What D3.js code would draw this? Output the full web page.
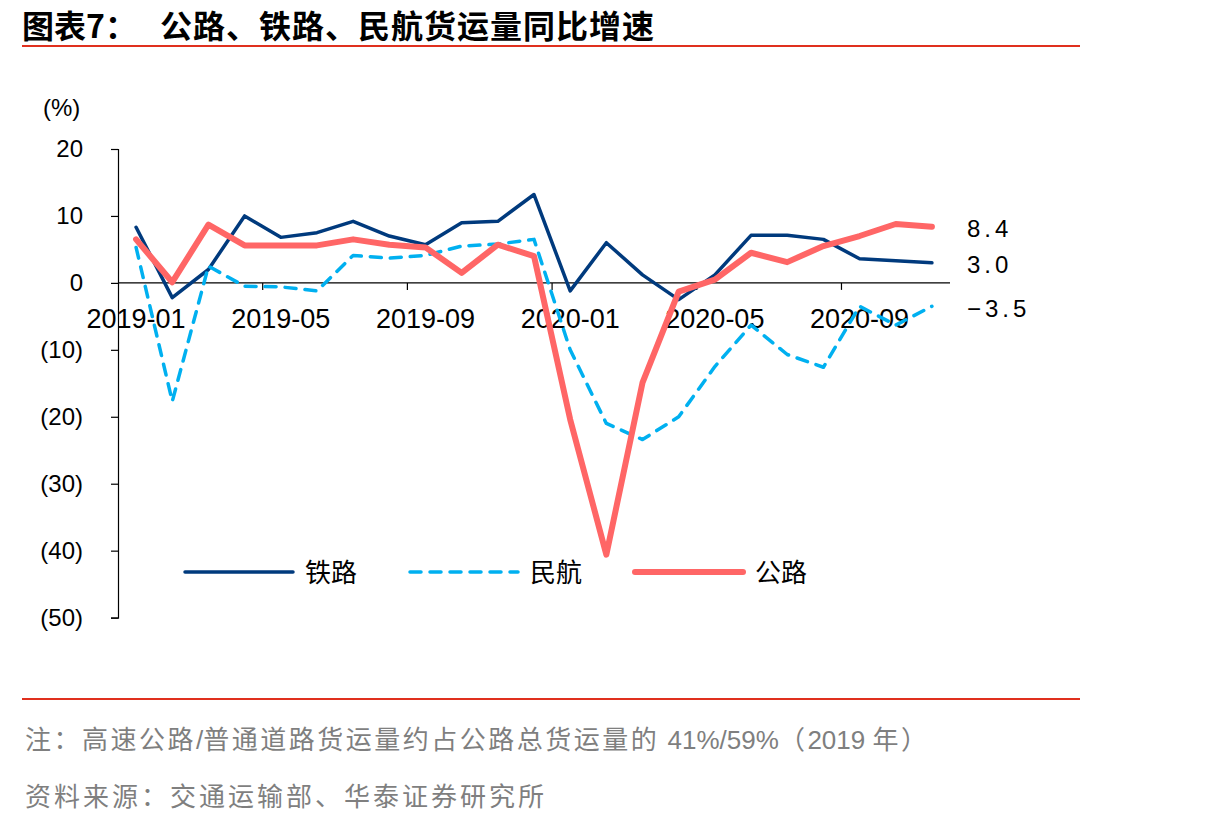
<!DOCTYPE html>
<html>
<head>
<meta charset="utf-8">
<script src="https://cdn.jsdelivr.net/npm/d3@7"></script>
<style>
    body { margin: 0; background: #fff; }
    svg text { font-family: "Liberation Sans", Arial, sans-serif; }
    .cjk { font-family: "Noto Sans CJK SC", sans-serif !important; }
</style>
</head>
<body>
<div id="chart"></div>
<script>
// months 2019-01 .. 2020-11
let months = ["2019-01","2019-02","2019-03","2019-04","2019-05","2019-06","2019-07","2019-08","2019-09","2019-10","2019-11","2019-12",
    "2020-01","2020-02","2020-03","2020-04","2020-05","2020-06","2020-07","2020-08","2020-09","2020-10","2020-11"]

let railYoY = [8.3, -2.2, 2.0, 10.0, 6.8, 7.5, 9.2, 7.0, 5.7, 9.0, 9.2, 13.2, -1.2, 6.0, 1.2, -2.5, 1.2, 7.1, 7.1, 6.5, 3.6, 3.3, 3.0]
let airYoY = [5.3, -17.7, 2.5, -0.5, -0.6, -1.2, 4.1, 3.7, 4.1, 5.5, 5.8, 6.5, -10.0, -21.0, -23.4, -20.0, -12.5, -6.3, -10.7, -12.6, -3.5, -6.3, -3.5]
let roadYoY = [6.5, 0.1, 8.7, 5.6, 5.6, 5.6, 6.5, 5.7, 5.3, 1.5, 5.7, 4.0, -20.4, -40.6, -14.9, -1.3, 0.5, 4.5, 3.1, 5.5, 7.0, 8.8, 8.4]

let yTicks = [20, 10, 0, -10, -20, -30, -40, -50]
let xLabels = ["2019-01","2019-05","2019-09","2020-01","2020-05","2020-09"]

let series = [
    {name: "铁路", values: railYoY, color: "#003a7d", width: 3.5, dash: null},
    {name: "民航", values: airYoY, color: "#00b0f0", width: 3.5, dash: "11,9"},
    {name: "公路", values: roadYoY, color: "#ff6666", width: 6, dash: null}
]

let width = 1210, height = 826

let svg = d3.select("#chart").append("svg")
    .attr("width", width)
    .attr("height", height)

// title + rules
svg.append("text").attr("class", "cjk")
    .attr("x", 22).attr("y", 38)
    .style("font-size", "32px").style("font-weight", "bold")
    .text("图表7：")
svg.append("text").attr("class", "cjk")
    .attr("x", 160).attr("y", 38)
    .style("font-size", "32px").style("font-weight", "bold")
    .style("letter-spacing", "1px")
    .text("公路、铁路、民航货运量同比增速")

svg.append("line")
    .attr("x1", 22).attr("x2", 1080).attr("y1", 46).attr("y2", 46)
    .attr("stroke", "#e0301e").attr("stroke-width", 2)
svg.append("line")
    .attr("x1", 22).attr("x2", 1080).attr("y1", 699).attr("y2", 699)
    .attr("stroke", "#e0301e").attr("stroke-width", 2)

// scales
let x = d3.scalePoint()
    .domain(months)
    .range([118, 950])
    .padding(0.5)

let y = d3.scaleLinear()
    .domain([-50, 20])
    .range([617.6, 149])

let step = x.step()

// y axis
let yAxis = d3.axisLeft(y)
    .tickValues(yTicks)
    .tickSize(7)
    .tickFormat(d => d < 0 ? "(" + Math.abs(d) + ")" : d)

let gy = svg.append("g")
    .attr("transform", "translate(118,0)")
    .call(yAxis)
gy.select(".domain").attr("stroke", "#000").attr("stroke-width", 1.2)
gy.selectAll(".tick line").attr("stroke", "#000").attr("stroke-width", 1.2)
gy.selectAll(".tick text")
    .attr("x", -35)
    .style("font-size", "24px")
    .attr("fill", "#000")

svg.append("text")
    .attr("x", 43).attr("y", 116)
    .style("font-size", "24px")
    .text("(%)")

// x axis at zero
let zeroY = y(0)
svg.append("line")
    .attr("x1", 118).attr("x2", 118 + step * months.length)
    .attr("y1", zeroY).attr("y2", zeroY)
    .attr("stroke", "#000").attr("stroke-width", 1.2)

let tickIdx = d3.range(4, months.length, 4)
svg.selectAll(".xtick")
    .data(tickIdx)
    .enter()
    .append("line")
    .attr("class", "xtick")
    .attr("x1", d => 118 + step * d).attr("x2", d => 118 + step * d)
    .attr("y1", zeroY).attr("y2", zeroY + 7)
    .attr("stroke", "#000").attr("stroke-width", 1.2)

svg.selectAll(".xlabel")
    .data(xLabels)
    .enter()
    .append("text")
    .attr("class", "xlabel")
    .attr("x", d => x(d))
    .attr("y", zeroY + 45)
    .attr("text-anchor", "middle")
    .style("font-size", "27px")
    .text(d => d)

// lines
let line = d3.line()
    .x((d, i) => x(months[i]))
    .y(d => y(d))

svg.selectAll(".series")
    .data(series)
    .enter()
    .append("path")
    .attr("class", "series")
    .attr("d", d => line(d.values))
    .attr("fill", "none")
    .attr("stroke", d => d.color)
    .attr("stroke-width", d => d.width)
    .attr("stroke-dasharray", d => d.dash)
    .attr("stroke-linejoin", "round")
    .attr("stroke-linecap", "round")

// end labels
let endLabels = [
    {v: roadYoY[roadYoY.length - 1], y: 228},
    {v: railYoY[railYoY.length - 1], y: 264},
    {v: airYoY[airYoY.length - 1], y: 308}
]
svg.selectAll(".endlab")
    .data(endLabels)
    .enter()
    .append("text")
    .attr("class", "endlab")
    .attr("x", 967)
    .attr("y", d => d.y + 9)
    .style("font-size", "24px")
    .style("letter-spacing", "4px")
    .text(d => (d.v < 0 ? "\u2212" : "") + Math.abs(d.v).toFixed(1))

// legend
let legX = [185, 410, 635]
let legend = svg.selectAll(".legend")
    .data(series)
    .enter()
    .append("g")
    .attr("class", "legend")
    .attr("transform", (d, i) => "translate(" + legX[i] + ",572)")

legend.append("line")
    .attr("x1", 0).attr("x2", 108)
    .attr("stroke", d => d.color)
    .attr("stroke-width", d => d.width)
    .attr("stroke-dasharray", d => d.dash)
    .attr("stroke-linecap", "round")

legend.append("text").attr("class", "cjk")
    .attr("x", 120).attr("y", 10)
    .style("font-size", "26px")
    .text(d => d.name)

// footnotes (latin parts in Arial-like font)
let noteParts = [
    {t: "注：高速公路", lat: false},
    {t: "/", lat: true},
    {t: "普通道路货运量约占公路总货运量的 ", lat: false},
    {t: "41%/59%", lat: true},
    {t: "（", lat: false},
    {t: "2019 ", lat: true},
    {t: "年）", lat: false}
]
let note = svg.append("text").attr("class", "cjk")
    .attr("x", 25).attr("y", 749)
    .style("font-size", "26px")
    .style("letter-spacing", "2.5px")
    .attr("fill", "#7f7f7f")
note.selectAll("tspan")
    .data(noteParts)
    .enter()
    .append("tspan")
    .style("font-family", d => d.lat ? "'Liberation Sans', Arial, sans-serif" : null)
    .style("letter-spacing", d => d.lat ? "0px" : null)
    .text(d => d.t)

svg.append("text").attr("class", "cjk")
    .attr("x", 25).attr("y", 806)
    .style("font-size", "26px")
    .style("letter-spacing", "3px")
    .attr("fill", "#7f7f7f")
    .text("资料来源：交通运输部、华泰证券研究所")
</script>
</body>
</html>
